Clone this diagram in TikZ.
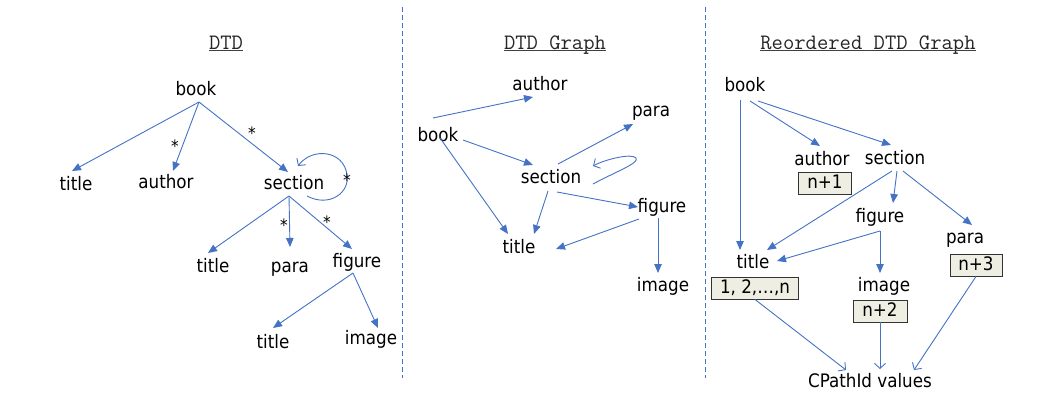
\documentclass[tikz,border=0pt]{standalone}
\usepackage{fontspec}
\setmainfont{DejaVu Sans Condensed}
\usetikzlibrary{arrows.meta}
\definecolor{eblue}{HTML}{4472C4}
\definecolor{boxfill}{HTML}{EEEEE2}
\begin{document}
\begin{tikzpicture}[x=1pt,y=-1pt,
  lbl/.style={font=\fontsize{18.6}{20}\selectfont, anchor=base, inner sep=2pt, text height=14pt, text depth=4pt},
  ttl/.style={font=\ttfamily\fontsize{22}{24}\selectfont, anchor=base, inner sep=0pt, text=black!85},
  uline/.style={draw=black!75, line width=1.2pt},
  starl/.style={font=\fontsize{17}{18}\selectfont, anchor=base, inner sep=0pt},
  valbox/.style={font=\fontsize{18.6}{20}\selectfont, draw=black!80, fill=boxfill, line width=0.9pt, inner sep=0pt, minimum height=22pt, text height=14pt, text depth=4pt},
  tree/.style={draw=eblue, line width=0.9pt, -{Triangle[length=9pt,width=7.5pt]}},
  open/.style={draw=eblue, line width=0.9pt, -{Straight Barb[length=5pt,width=11pt]}},
  sep/.style={draw=eblue, line width=1.1pt, dash pattern=on 5pt off 3pt}]
\useasboundingbox (0,0) rectangle (1058,394);

% separators
\coordinate (s1t) at (402.5,7); \coordinate (s1b) at (402.5,378);
\coordinate (s2t) at (705.5,7); \coordinate (s2b) at (705.5,378);
\draw[sep] (s1t) -- (s1b);
\draw[sep] (s2t) -- (s2b);

% titles
\node[ttl] (t1) at (226,49) {DTD};
\node[ttl] (t2) at (555,49) {DTD Graph};
\node[ttl] (t3) at (868,49) {Reordered DTD Graph};
\foreach \t in {t1,t2,t3}
  \draw[uline] ([shift={(0,1.8)}]\t.base west) -- ([shift={(0,1.8)}]\t.base east);

% ---------- DTD ----------
\node[lbl] (d-book) at (196,95) {book};
\node[lbl] (d-title) at (76,190) {title};
\node[lbl] (d-author) at (166,188) {author};
\node[lbl] (d-section) at (294,189) {section};
\node[lbl] (d-title2) at (213,272) {title};
\node[lbl] (d-para) at (290,272) {para};
\node[lbl] (d-figure) at (357,267) {figure};
\node[lbl] (d-title3) at (273,348) {title};
\node[lbl] (d-image) at (371,344) {image};

\draw[tree] ([shift={(3,7)}]d-book.base) -- ([shift={(-4,-19)}]d-title.base);
\draw[tree] ([shift={(3,7)}]d-book.base) -- ([shift={(7,-17)}]d-author.base);
\draw[tree] ([shift={(3,7)}]d-book.base) -- ([shift={(-6,-17)}]d-section.base);
\draw[tree] ([shift={(-5,7)}]d-section.base) -- ([shift={(-5,-19)}]d-title2.base);
\draw[tree] ([shift={(-5,7)}]d-section.base) -- ([shift={(0,-25)}]d-para.base);
\draw[tree] ([shift={(-5,7)}]d-section.base) -- ([shift={(-5,-18)}]d-figure.base);
\draw[tree] ([shift={(-4,6)}]d-figure.base) -- ([shift={(0,-20)}]d-title3.base);
\draw[tree] ([shift={(-4,6)}]d-figure.base) -- ([shift={(7,-16)}]d-image.base);
\draw[open] ([shift={(13,7)}]d-section.base) .. controls (330,208) and (350,192) .. (347,175)
   .. controls (344,150) and (312,147) .. ([shift={(4,-23)}]d-section.base);

\node[starl] (st1) at (175,152) {*};
\node[starl] (st2) at (252,139) {*};
\node[starl] (st3) at (347,186) {*};
\node[starl] (st4) at (284,231) {*};
\node[starl] (st5) at (327,228) {*};

% ---------- DTD Graph ----------
\node[lbl] (g-author) at (540,90) {author};
\node[lbl] (g-book) at (438,141) {book};
\node[lbl] (g-para) at (651,116) {para};
\node[lbl] (g-section) at (551,183) {section};
\node[lbl] (g-figure) at (662,212) {figure};
\node[lbl] (g-title) at (519,253) {title};
\node[lbl] (g-image) at (663,291) {image};

\draw[tree] ([shift={(-5,-23)}]g-book.base) -- ([shift={(-7,7)}]g-author.base);
\draw[tree] ([shift={(25,-1)}]g-book.base) -- ([shift={(-18,-18)}]g-section.base);
\draw[tree] ([shift={(2,-3)}]g-book.base) -- ([shift={(-11,-19)}]g-title.base);
\draw[tree] ([shift={(7,-19)}]g-section.base) -- ([shift={(-18,8)}]g-para.base);
\draw[tree] ([shift={(-3,8)}]g-section.base) -- ([shift={(15,-19)}]g-title.base);
\draw[tree] ([shift={(6,9)}]g-section.base) -- ([shift={(-24,-5)}]g-figure.base);
\draw[tree] ([shift={(-23,7)}]g-figure.base) -- ([shift={(37,-4)}]g-title.base);
\draw[tree] ([shift={(-4,6)}]g-figure.base) -- ([shift={(-5,-18)}]g-image.base);
\draw[open] ([shift={(42,1)}]g-section.base) .. controls (615,172) and (640,163) .. (636,158)
   .. controls (632,153) and (606,159) .. ([shift={(42,-17)}]g-section.base);

% ---------- Reordered DTD Graph ----------
\node[lbl] (r-book) at (745,91) {book};
\node[lbl] (r-author) at (822,165) {author};
\node[lbl] (r-section) at (895,164) {section};
\node[lbl] (r-figure) at (880,222) {figure};
\node[lbl] (r-para) at (965,243) {para};
\node[lbl] (r-title) at (753,268) {title};
\node[lbl] (r-image) at (884,291) {image};
\node[lbl] (r-cpath) at (870,387) {CPathId values};

\node[valbox, minimum width=53pt] (n1) at (825,183) {n+1};
\node[valbox, minimum width=52pt] (n3) at (976,265) {n+3};
\node[valbox, minimum width=87pt] (n0) at (755,288) {1, 2,…,n};
\node[valbox, minimum width=54pt] (n2) at (880,311) {n+2};

\draw[tree] ([shift={(-5,9)}]r-book.base) -- ([shift={(-13,-18)}]r-title.base);
\draw[tree] ([shift={(5,10)}]r-book.base) -- ([shift={(-2,-19)}]r-author.base);
\draw[tree] ([shift={(13,10)}]r-book.base) -- ([shift={(-4,-19)}]r-section.base);
\draw[tree] ([shift={(-3,7)}]r-section.base) -- ([shift={(14,-18)}]r-title.base);
\draw[tree] ([shift={(2,7)}]r-section.base) -- ([shift={(13,-19)}]r-figure.base);
\draw[tree] ([shift={(8,7)}]r-section.base) -- ([shift={(7,-18)}]r-para.base);
\draw[tree] ([shift={(0,9)}]r-figure.base) -- ([shift={(24,-7)}]r-title.base);
\draw[tree] ([shift={(0,9)}]r-figure.base) -- ([shift={(-4,-18)}]r-image.base);
\draw[open] (n0.south) -- ([shift={(-24,-17)}]r-cpath.base);
\draw[open] (n2.south) -- ([shift={(10,-18)}]r-cpath.base);
\draw[open] (n3.south) -- ([shift={(44,-17)}]r-cpath.base);
\end{tikzpicture}
\end{document}
